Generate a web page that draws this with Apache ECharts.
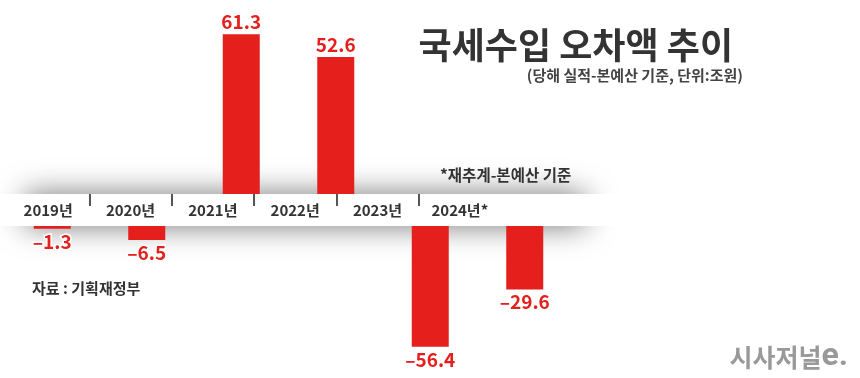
<!DOCTYPE html>
<html>
<head>
<meta charset="utf-8">
<title>국세수입 오차액 추이</title>
<script src="https://cdn.jsdelivr.net/npm/echarts@6/dist/echarts.min.js"></script>
<style>
  html, body { margin: 0; padding: 0; background: #fff; }
  #chart { width: 860px; height: 378px; }
</style>
</head>
<body>
<div id="chart"></div>
<script>
// 연도 (가로축 라벨)
const years = ['2019년', '2020년', '2021년', '2022년', '2023년', '2024년*']
// 국세수입 오차액, 단위: 조원
const gaps = [-1.3, -6.5, 61.3, 52.6, -56.4, -29.6]

const RED = '#e41f1c'
const FONT = '"Noto Sans CJK KR", "Noto Sans", sans-serif'

// 띠 위쪽은 양수, 아래쪽은 음수 막대
const plus = gaps.map(v => (v >= 0 ? v : '-'))
const minus = gaps.map(v => (v < 0 ? v : '-'))

const chart = echarts.init(document.getElementById('chart'))

const valueLabel = {
  show: true,
  color: RED,
  fontFamily: FONT,
  fontWeight: 'bold',
  fontSize: 19,
  textBorderColor: '#fff',
  textBorderWidth: 3,
  distance: 3,
  formatter: p => (p.value < 0 ? '–' + Math.abs(p.value).toFixed(1) : p.value.toFixed(1))
}

const option = {
  backgroundColor: '#fff',
  animation: false,
  grid: [
    { left: 5, width: 567, top: 9, height: 185 },
    { left: 5, width: 567, top: 226, height: 150 },
    { left: 7, width: 494, top: 194, height: 12 }
  ],
  xAxis: [
    { gridIndex: 0, type: 'category', data: years, show: false },
    { gridIndex: 1, type: 'category', data: years, show: false },
    {
      gridIndex: 2,
      type: 'category',
      data: years,
      position: 'bottom',
      z: 10,
      axisLine: { show: false },
      axisTick: { show: false },
      axisLabel: {
        margin: -3,
        color: '#333',
        fontFamily: FONT,
        fontWeight: 'bold',
        fontSize: 15
      },
      splitLine: {
        show: true,
        showMinLine: false,
        showMaxLine: false,
        lineStyle: { color: '#555', width: 2 }
      }
    }
  ],
  yAxis: [
    { gridIndex: 0, type: 'value', min: 0, max: 71, show: false },
    { gridIndex: 1, type: 'value', min: -70, max: 0, show: false },
    { gridIndex: 2, type: 'value', show: false }
  ],
  series: [
    {
      type: 'bar',
      xAxisIndex: 0,
      yAxisIndex: 0,
      data: plus,
      barWidth: 37,
      itemStyle: { color: RED },
      label: Object.assign({ position: 'top' }, valueLabel)
    },
    {
      type: 'bar',
      xAxisIndex: 1,
      yAxisIndex: 1,
      data: minus,
      barWidth: 37,
      itemStyle: { color: RED },
      label: Object.assign({ position: 'bottom' }, valueLabel)
    }
  ],
  graphic: [
    // 그림자 있는 흰 띠
    {
      type: 'rect',
      z: 0,
      shape: { x: 25, y: 194, width: 560, height: 32 },
      style: { fill: '#fff', shadowBlur: 30, shadowColor: 'rgba(0,0,0,0.55)' }
    },
    {
      type: 'rect',
      z: 1,
      shape: { x: 0, y: 194, width: 640, height: 32 },
      style: { fill: '#fff' }
    },
    {
      type: 'text',
      z: 5,
      style: {
        text: '국세수입 오차액 추이',
        x: 733, y: 45,
        align: 'right', verticalAlign: 'middle',
        fill: '#333', fontFamily: FONT, fontWeight: 'bold', fontSize: 36
      }
    },
    {
      type: 'text',
      z: 5,
      style: {
        text: '(당해 실적-본예산 기준, 단위:조원)',
        x: 743, y: 75,
        align: 'right', verticalAlign: 'middle',
        fill: '#444', fontFamily: FONT, fontWeight: 'bold', fontSize: 15
      }
    },
    {
      type: 'text',
      z: 5,
      style: {
        text: '*재추계-본예산 기준',
        x: 440, y: 175,
        align: 'left', verticalAlign: 'middle',
        fill: '#333', fontFamily: FONT, fontWeight: 'bold', fontSize: 15.5
      }
    },
    {
      type: 'text',
      z: 5,
      style: {
        text: '자료 : 기획재정부',
        x: 32, y: 288,
        align: 'left', verticalAlign: 'middle',
        fill: '#333', fontFamily: FONT, fontWeight: 'bold', fontSize: 15
      }
    },
    {
      type: 'text',
      z: 5,
      style: {
        text: '{a|시사저널}{b|e.}',
        x: 848, y: 357,
        align: 'right', verticalAlign: 'middle',
        rich: {
          a: { fill: '#999', fontFamily: FONT, fontWeight: 'bold', fontSize: 25 },
          b: { fill: '#999', fontFamily: 'Roboto, sans-serif', fontWeight: 'bold', fontSize: 32 }
        }
      }
    }
  ]
}

chart.setOption(option)
</script>
</body>
</html>
